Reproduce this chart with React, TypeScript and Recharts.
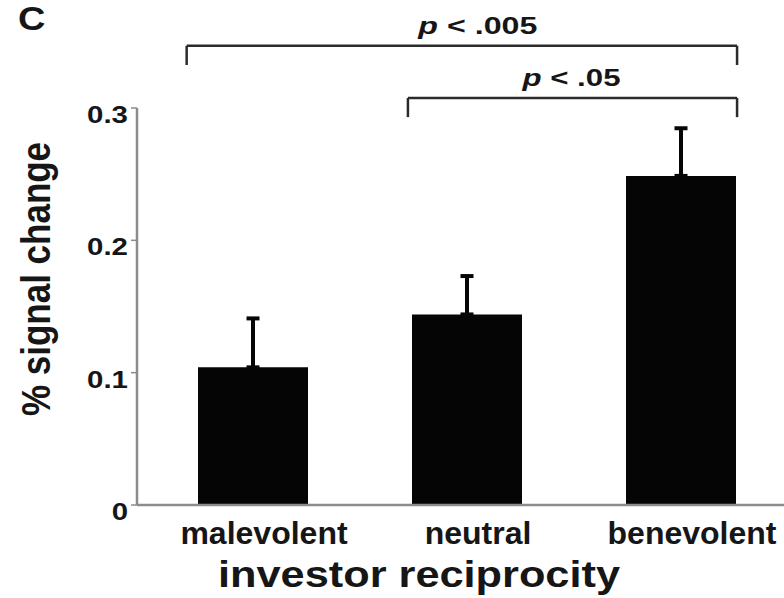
import React from "react";
import {
  BarChart,
  Bar,
  XAxis,
  YAxis,
  ErrorBar,
  ReferenceLine,
} from "recharts";

const categories = ["malevolent", "neutral", "benevolent"];
const signalChange = [0.104, 0.144, 0.2487];
const stdError = [0.037, 0.029, 0.036];
const yTicks = [0, 0.1, 0.2, 0.3];

// significance brackets (x on a 0..3 category scale, y in data units)
const bracketLabels = [".005", ".05"];
const bracketFrom = [0.19, 1.224];
const bracketTo = [2.762, 2.762];
const bracketLevel = [0.347, 0.3076];

const data = categories.map((name, i) => ({
  name,
  slot: i + 0.5,
  value: signalChange[i],
  err: [0, stdError[i]],
}));

const FONT = "'Liberation Sans', Arial, Helvetica, sans-serif";
const INK = "#161616";
const AXIS = "#8c8c8c";
const BAR = "#050505";
const LINE = "#2b2b2b";

function YTick(props: any) {
  const { x, y, payload } = props;
  return (
    <g transform={`translate(${x},${y + 15})`}>
      <text
        transform="scale(1.28,1)"
        textAnchor="end"
        fontFamily={FONT}
        fontWeight="bold"
        fontSize={23}
        fill={INK}
      >
        {payload.value === 0 ? "0" : payload.value.toFixed(1)}
      </text>
    </g>
  );
}

function XTick(props: any) {
  const { x, y, payload } = props;
  return (
    <text
      x={x + 11}
      y={y}
      dy={31}
      textAnchor="middle"
      fontFamily={FONT}
      fontWeight="bold"
      fontSize={32}
      fill={INK}
    >
      {payload.value}
    </text>
  );
}

function pLabel(value: string, shift: number, len: number) {
  return (props: any) => {
    const vb = props.viewBox || {};
    const cx = (vb.x ?? 0) + (vb.width ?? 0) / 2 + shift;
    const cy = Math.min(vb.y ?? 0, (vb.y ?? 0) + (vb.height ?? 0)) - 12;
    return (
      <text
        x={cx}
        y={cy}
        textAnchor="middle"
        textLength={len}
        lengthAdjust="spacingAndGlyphs"
        fontFamily={FONT}
        fontWeight="bold"
        fontSize={24}
        fill={INK}
      >
        <tspan fontStyle="italic">p</tspan>
        <tspan> &lt; {value}</tspan>
      </text>
    );
  };
}

export default function App() {
  const drop = 0.0145;
  return (
    <div
      style={{
        position: "absolute",
        left: 0,
        top: 0,
        width: 784,
        height: 598,
        overflow: "hidden",
        background: "#fff",
      }}
    >
      <div
        style={{
          position: "absolute",
          left: 18,
          top: 2,
          lineHeight: 1,
          fontFamily: FONT,
          fontWeight: "bold",
          fontSize: 33,
          color: INK,
          transform: "scaleX(1.15)",
          transformOrigin: "left top",
        }}
      >
        C
      </div>
      <BarChart
        width={790}
        height={598}
        data={data}
        margin={{ top: 108, right: 2, bottom: 0, left: 0 }}
      >
        <XAxis
          dataKey="name"
          height={93}
          padding={{ left: 9, right: 0 }}
          axisLine={{ stroke: AXIS, strokeWidth: 2.5 }}
          tickLine={false}
          tick={<XTick />}
          interval={0}
          label={{
            content: () => (
              <text
                x={419}
                y={587}
                textAnchor="middle"
                textLength={402}
                lengthAdjust="spacingAndGlyphs"
                fontFamily={FONT}
                fontWeight="bold"
                fontSize={37}
                fill={INK}
              >
                investor reciprocity
              </text>
            ),
          }}
        />
        <XAxis
          xAxisId="ann"
          dataKey="slot"
          type="number"
          domain={[0, 3]}
          allowDataOverflow
          padding={{ left: 9, right: 0 }}
          hide
        />
        <YAxis
          width={137}
          domain={[0, 0.3]}
          ticks={yTicks}
          interval={0}
          axisLine={{ stroke: AXIS, strokeWidth: 2.5 }}
          tickLine={{ stroke: AXIS, strokeWidth: 1.5 }}
          tickSize={6}
          tickMargin={3}
          tick={<YTick />}
          label={{
            content: () => (
              <text
                x={0}
                y={0}
                transform="translate(50 279) scale(1.15 1) rotate(-90)"
                textAnchor="middle"
                fontFamily={FONT}
                fontWeight="bold"
                fontSize={35}
                fill={INK}
              >
                % signal change
              </text>
            ),
          }}
        />
        <Bar dataKey="value" fill={BAR} barSize={110} isAnimationActive={false}>
          <ErrorBar
            dataKey="err"
            width={6.5}
            stroke={BAR}
            strokeWidth={4}
            direction="y"
            isAnimationActive={false}
          />
        </Bar>
        {bracketLabels.map((lab, i) => (
          <ReferenceLine
            key={"h" + i}
            xAxisId="ann"
            ifOverflow="visible"
            stroke={LINE}
            strokeWidth={2.5}
            segment={[
              { x: bracketFrom[i], y: bracketLevel[i] },
              { x: bracketTo[i], y: bracketLevel[i] },
            ]}
            label={{
              content: pLabel(lab, i === 0 ? 16 : -1, i === 0 ? 119 : 98),
            }}
          />
        ))}
        {bracketLabels.map((lab, i) => (
          <ReferenceLine
            key={"l" + i}
            xAxisId="ann"
            ifOverflow="visible"
            stroke={LINE}
            strokeWidth={2.5}
            segment={[
              { x: bracketFrom[i], y: bracketLevel[i] },
              { x: bracketFrom[i], y: bracketLevel[i] - drop },
            ]}
          />
        ))}
        {bracketLabels.map((lab, i) => (
          <ReferenceLine
            key={"r" + i}
            xAxisId="ann"
            ifOverflow="visible"
            stroke={LINE}
            strokeWidth={2.5}
            segment={[
              { x: bracketTo[i], y: bracketLevel[i] },
              { x: bracketTo[i], y: bracketLevel[i] - drop },
            ]}
          />
        ))}
      </BarChart>
    </div>
  );
}
